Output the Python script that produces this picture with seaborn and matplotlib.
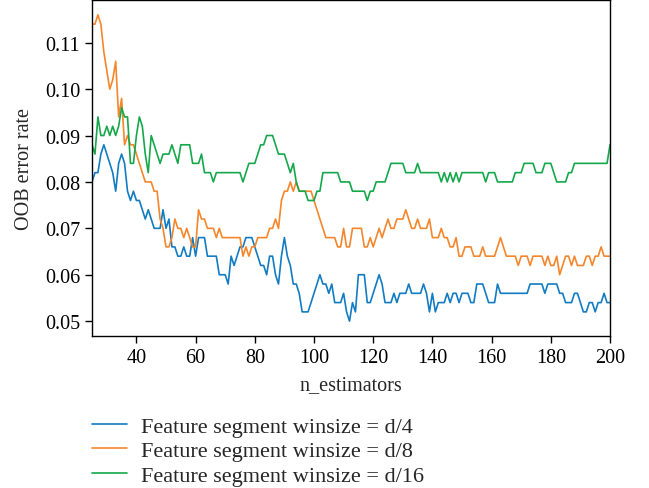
import numpy as np
import pandas as pd
import seaborn as sns
import matplotlib
matplotlib.use("Agg")
import matplotlib.pyplot as plt

# n_estimators from 25 to 200
n_estimators = np.arange(25, 201)

# OOB error rate, winsize = d/4
err_d4 = [
    .080, .082, .082, .086, .088, .086, .084, .082, .078, .084,
    .086, .084, .078, .076, .078, .076, .076, .074, .072, .074,
    .072, .070, .070, .070, .074, .070, .072, .066, .066, .064,
    .064, .066, .064, .064, .068, .064, .068, .068, .068, .064,
    .064, .064, .064, .060, .060, .060, .058, .064, .062, .064,
    .066, .066, .068, .068, .068, .066, .064, .062, .062, .060,
    .064, .064, .060, .058, .064, .068, .064, .062, .058, .058,
    .056, .052, .052, .052, .054, .056, .058, .060, .058, .058,
    .056, .058, .054, .054, .054, .056, .052, .050, .054, .052,
    .060, .060, .060, .054, .054, .056, .058, .060, .058, .054,
    .054, .054, .056, .054, .056, .056, .056, .058, .056, .056,
    .056, .056, .058, .056, .052, .056, .052, .054, .054, .054,
    .056, .054, .056, .056, .054, .056, .056, .056, .054, .054,
    .058, .058, .058, .056, .054, .054, .054, .058, .056, .056,
    .056, .056, .056, .056, .056, .056, .056, .056, .058, .058,
    .058, .058, .058, .056, .058, .058, .058, .058, .056, .056,
    .054, .054, .054, .056, .056, .054, .052, .052, .054, .054,
    .052, .054, .054, .056, .054, .054,
]

# OOB error rate, winsize = d/8
err_d8 = [
    .114, .114, .116, .114, .108, .104, .100, .102, .106, .094,
    .098, .088, .090, .088, .088, .086, .084, .082, .080, .080,
    .080, .078, .078, .072, .070, .066, .066, .068, .072, .070,
    .070, .068, .070, .068, .066, .066, .074, .072, .072, .070,
    .070, .070, .068, .070, .068, .068, .068, .068, .068, .068,
    .068, .064, .066, .064, .066, .066, .068, .068, .068, .068,
    .070, .070, .072, .070, .076, .078, .078, .080, .078, .080,
    .078, .078, .078, .078, .078, .076, .074, .072, .070, .068,
    .068, .068, .068, .066, .066, .070, .066, .066, .070, .070,
    .070, .070, .066, .066, .068, .066, .068, .070, .068, .070,
    .072, .070, .070, .072, .072, .072, .074, .072, .070, .070,
    .072, .070, .070, .070, .072, .068, .068, .068, .070, .068,
    .068, .066, .066, .068, .064, .064, .066, .066, .066, .064,
    .064, .064, .066, .064, .064, .064, .064, .066, .068, .066,
    .064, .064, .064, .064, .062, .064, .064, .064, .062, .064,
    .064, .064, .064, .062, .064, .062, .062, .064, .060, .062,
    .064, .064, .062, .064, .062, .062, .062, .064, .064, .062,
    .064, .064, .066, .064, .064, .064,
]

# OOB error rate, winsize = d/16
err_d16 = [
    .088, .086, .094, .090, .090, .092, .090, .092, .090, .092,
    .096, .094, .094, .084, .084, .090, .094, .092, .086, .082,
    .090, .088, .086, .084, .086, .086, .086, .088, .086, .084,
    .088, .088, .088, .088, .084, .084, .084, .086, .082, .082,
    .082, .080, .082, .082, .082, .082, .082, .082, .082, .082,
    .082, .080, .082, .084, .084, .084, .086, .088, .088, .090,
    .090, .090, .088, .086, .086, .086, .084, .082, .084, .080,
    .078, .078, .078, .076, .076, .076, .078, .078, .082, .082,
    .082, .082, .082, .082, .080, .080, .080, .080, .078, .078,
    .078, .078, .078, .076, .078, .078, .080, .080, .080, .080,
    .082, .084, .084, .084, .084, .084, .082, .082, .082, .082,
    .084, .082, .082, .082, .082, .082, .082, .082, .080, .082,
    .080, .082, .080, .082, .080, .082, .082, .082, .082, .082,
    .082, .082, .082, .080, .082, .082, .082, .080, .080, .080,
    .080, .080, .080, .082, .082, .082, .084, .084, .084, .084,
    .082, .082, .082, .084, .084, .084, .082, .080, .080, .080,
    .080, .082, .082, .084, .084, .084, .084, .084, .084, .084,
    .084, .084, .084, .084, .084, .088,
]

labels = ["Feature segment winsize = d/4",
          "Feature segment winsize = d/8",
          "Feature segment winsize = d/16"]
colors = ["#127CC2", "#F5862C", "#15A84B"]

df = pd.concat([
    pd.DataFrame({"n_estimators": n_estimators, "err": vals, "series": lab})
    for vals, lab in zip([err_d4, err_d8, err_d16], labels)
])

sns.set_style("ticks")
plt.rcParams["font.family"] = ["Liberation Serif", "DejaVu Serif"]
plt.rcParams["font.size"] = 14.5

fig = plt.figure(figsize=(6.49, 4.89), dpi=100)
ax = fig.add_axes([92 / 649, 1 - 337 / 489, 518 / 649, 336 / 489])

sns.lineplot(data=df, x="n_estimators", y="err", hue="series",
             palette=colors, linewidth=1.2, ax=ax)

ax.set_xlim(25, 200)
ax.set_ylim(0.0468, 0.1192)
ax.set_xticks(np.arange(40, 201, 20))
ax.set_yticks([0.05, 0.06, 0.07, 0.08, 0.09, 0.10, 0.11])
ax.set_yticklabels(["0.05", "0.06", "0.07", "0.08", "0.09", "0.10", "0.11"])
ax.set_xlabel("n_estimators", fontsize=14.5, labelpad=6)
ax.set_ylabel("OOB error rate", fontsize=14.5, labelpad=8)
ax.tick_params(direction="out", length=5, width=1, colors="black",
               labelsize=14.5, top=False, right=False)
for s in ax.spines.values():
    s.set_visible(True)
    s.set_color("black")
    s.set_linewidth(1.0)

# legend sits under the axes, no frame
handles, _ = ax.get_legend_handles_labels()
ax.legend(handles, labels, loc="upper left", bbox_to_anchor=(0.0, -0.238),
          frameon=False, handlelength=1.58, handletextpad=0.63,
          labelspacing=0.18, borderpad=0, borderaxespad=0, fontsize=16)

fig.savefig("out.png", dpi=100)
